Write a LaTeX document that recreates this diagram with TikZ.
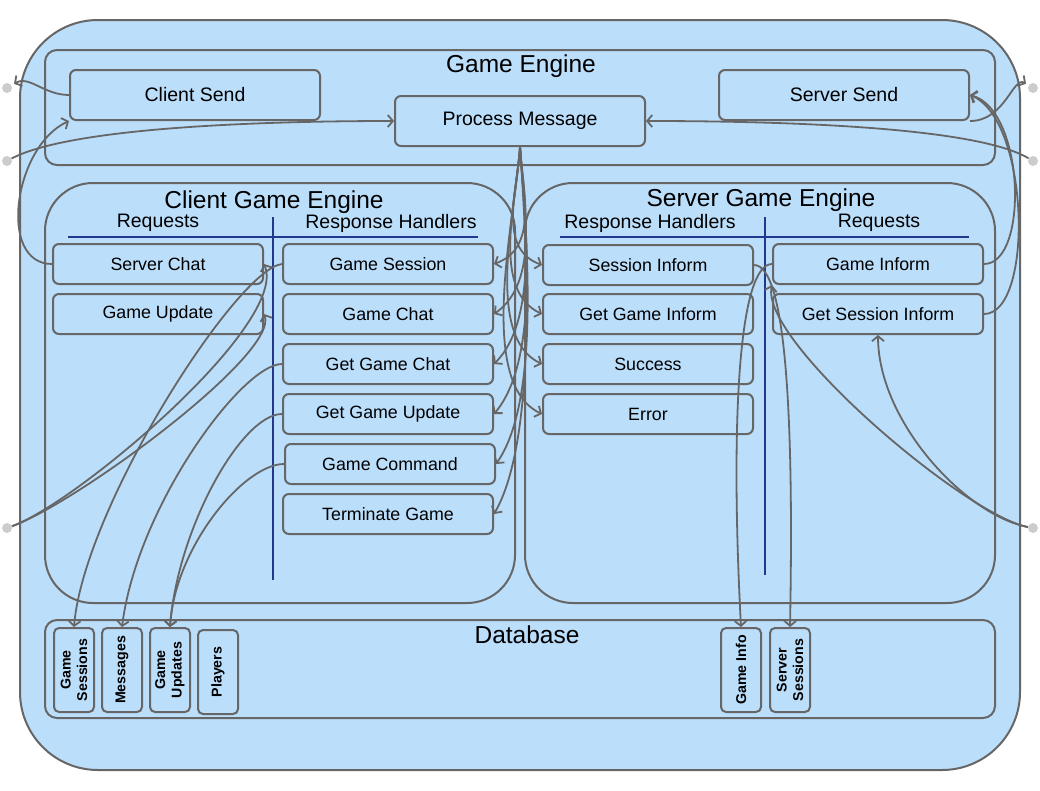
\documentclass[tikz,border=0pt]{standalone}
\usepackage{fontspec}
\setmainfont{Liberation Sans}
\usetikzlibrary{arrows.meta}
\definecolor{bg}{RGB}{187,222,251}
\definecolor{edgec}{RGB}{102,102,102}
\definecolor{navy}{RGB}{35,55,140}
\definecolor{dotc}{RGB}{204,204,204}
\begin{document}
\begin{tikzpicture}[x=1pt,y=1pt,
  cont/.style={draw=edgec, fill=bg, line width=2pt, inner sep=0pt},
  box/.style={draw=edgec, fill=bg, line width=2pt, rounded corners=6pt, minimum width=210pt, minimum height=40pt, inner sep=0pt, font=\fontsize{17.8}{20}\selectfont},
  bigbox/.style={box, minimum width=250pt, minimum height=50pt, font=\fontsize{19.5}{22}\selectfont},
  db/.style={draw=edgec, fill=bg, line width=2pt, rounded corners=5pt, rotate=90, minimum width=84pt, minimum height=40pt, inner sep=0pt, align=center, font=\bfseries\fontsize{14.2}{16.5}\selectfont},
  title/.style={font=\fontsize{24.5}{28}\selectfont, inner sep=0pt},
  head/.style={font=\fontsize{19.5}{22}\selectfont, inner sep=0pt},
  sep/.style={draw=navy, line width=1.8pt},
  conn/.style={draw=edgec, line width=1.8pt, -{Straight Barb[length=5pt,width=12pt]}},
  ext/.style={circle, fill=dotc, minimum size=10pt, inner sep=0pt},
]
\useasboundingbox (0,0) rectangle (1040,-790);

% containers
\node[cont, rounded corners=78pt, minimum width=1000pt, minimum height=750pt] (outer) at (520,-395) {};
\node[cont, rounded corners=12pt, minimum width=950pt, minimum height=115pt] (GE) at (520,-107.5) {};
\node[cont, rounded corners=48pt, minimum width=470pt, minimum height=420pt] (CGE) at (280,-393) {};
\node[cont, rounded corners=48pt, minimum width=470pt, minimum height=420pt] (SGE) at (760,-393) {};
\node[cont, rounded corners=12pt, minimum width=950pt, minimum height=98pt] (DB) at (520,-669) {};

% titles
\node[title] (tGE) at (521,-66) {Game Engine};
\node[title] (tCGE) at (274,-202) {Client Game Engine};
\node[title] (tSGE) at (761,-200) {Server Game Engine};
\node[title] (tDB) at (527,-635) {Database};
\node[head] (hCR) at (158,-223) {Requests};
\node[head] (hCH) at (391,-223) {Response Handlers};
\node[head] (hSH) at (650,-223) {Response Handlers};
\node[head] (hSR) at (879,-223) {Requests};

% separators
\draw[sep] (68,-237) -- (478,-237);
\draw[sep] (273,-217) -- (273,-580);
\draw[sep] (560,-237) -- (969,-237);
\draw[sep] (765,-217) -- (765,-575);

% game engine boxes
\node[bigbox] (CS) at (195,-95) {Client Send};
\node[bigbox] (PM) at (520,-121) {Process Message};
\node[bigbox] (SS) at (844,-95) {Server Send};

% client
\node[box] (SC) at (158,-264) {Server Chat};
\node[box] (GU) at (158,-314) {Game Update};
\node[box] (GS) at (388,-264) {Game Session};
\node[box] (GC) at (388,-314) {Game Chat};
\node[box] (GGC) at (388,-364) {Get Game Chat};
\node[box] (GGU) at (388,-414) {Get Game Update};
\node[box] (GCmd) at (390,-464) {Game Command};
\node[box] (TG) at (388,-514) {Terminate Game};

% server
\node[box] (SI) at (648,-265) {Session Inform};
\node[box] (GGI) at (648,-314) {Get Game Inform};
\node[box] (SUC) at (648,-364) {Success};
\node[box] (ERR) at (648,-414) {Error};
\node[box] (GI) at (878,-264) {Game Inform};
\node[box] (GSI) at (878,-314) {Get Session Inform};

% database
\node[db] (GSdb) at (74,-670) {Game\\Sessions};
\node[db] (MSG) at (122,-670) {Messages};
\node[db] (GUdb) at (170,-670) {Game\\Updates};
\node[db] (PL) at (218,-672) {Players};
\node[db] (GIdb) at (741,-670) {Game Info};
\node[db] (SSdb) at (790,-670) {Server\\Sessions};

% external points
\node[ext] (d1) at (7,-88) {};
\node[ext] (d2) at (7,-161) {};
\node[ext] (d3) at (7,-528) {};
\node[ext] (d4) at (1033,-88) {};
\node[ext] (d5) at (1033,-161) {};
\node[ext] (d6) at (1033,-528) {};

% top connectors
\draw[conn, shorten >=3pt] (CS.west) .. controls +(-25,0) and +(22,13) .. (d1);
\draw[conn] (d2) .. controls +(60,32) and +(-150,0) .. (PM.west);
\draw[conn] (SC.west) .. controls +(-55,0) and +(-55,-25) .. (CS.south west);
\draw[conn, shorten >=3pt] (SS.south east) .. controls +(35,0) and +(-20,12) .. (d4);
\draw[conn] (d5) .. controls +(-55,33) and +(150,0) .. (PM.east);
\draw[conn] (GI.east) .. controls +(45,0) and +(55,-15) .. (SS.east);
\draw[conn] (GSI.east) .. controls +(50,0) and +(60,-25) .. (SS.east);

% process message fan
\foreach \t/\a/\l in {GS/20/1.0, GC/35/0.85, GGC/45/0.75, GGU/50/0.7, GCmd/55/0.65, TG/60/0.62}
  \draw[conn] (PM.south) to[out=-86,in=\a,looseness=\l] (\t.east);
\foreach \t/\a/\l in {SI/160/1.0, GGI/155/0.85, SUC/155/0.75, ERR/155/0.7}
  \draw[conn] (PM.south) to[out=-94,in=\a,looseness=\l] (\t.west);

% client to database
\draw[conn] (GS.west) .. controls +(-45,-5) and +(10,120) .. (GSdb.east);
\draw[conn] (GGC.west) .. controls +(-40,0) and +(15,120) .. (MSG.east);
\draw[conn] (GGU.west) .. controls +(-40,0) and +(8,100) .. (GUdb.east);
\draw[conn] (GCmd.west) .. controls +(-40,0) and +(5,80) .. (GUdb.east);
\draw[conn] (d3) .. controls +(70,25) and +(25,-60) .. (SC.east);
\draw[conn] (d3) .. controls +(70,25) and +(15,-40) .. (GU.east);

% server to database
\draw[conn] (SI.east) .. controls +(32,0) and +(4,210) .. (SSdb.east);
\draw[conn] (GI.west) .. controls +(-33,0) and +(-11,208) .. (GIdb.east);
\draw[conn] (d6) .. controls +(-68,13) and +(0,-86) .. (GSI.south);
\draw[conn] (d6) .. controls +(-68,13) and +(-12,-56) .. (GI.south west);
\end{tikzpicture}
\end{document}
